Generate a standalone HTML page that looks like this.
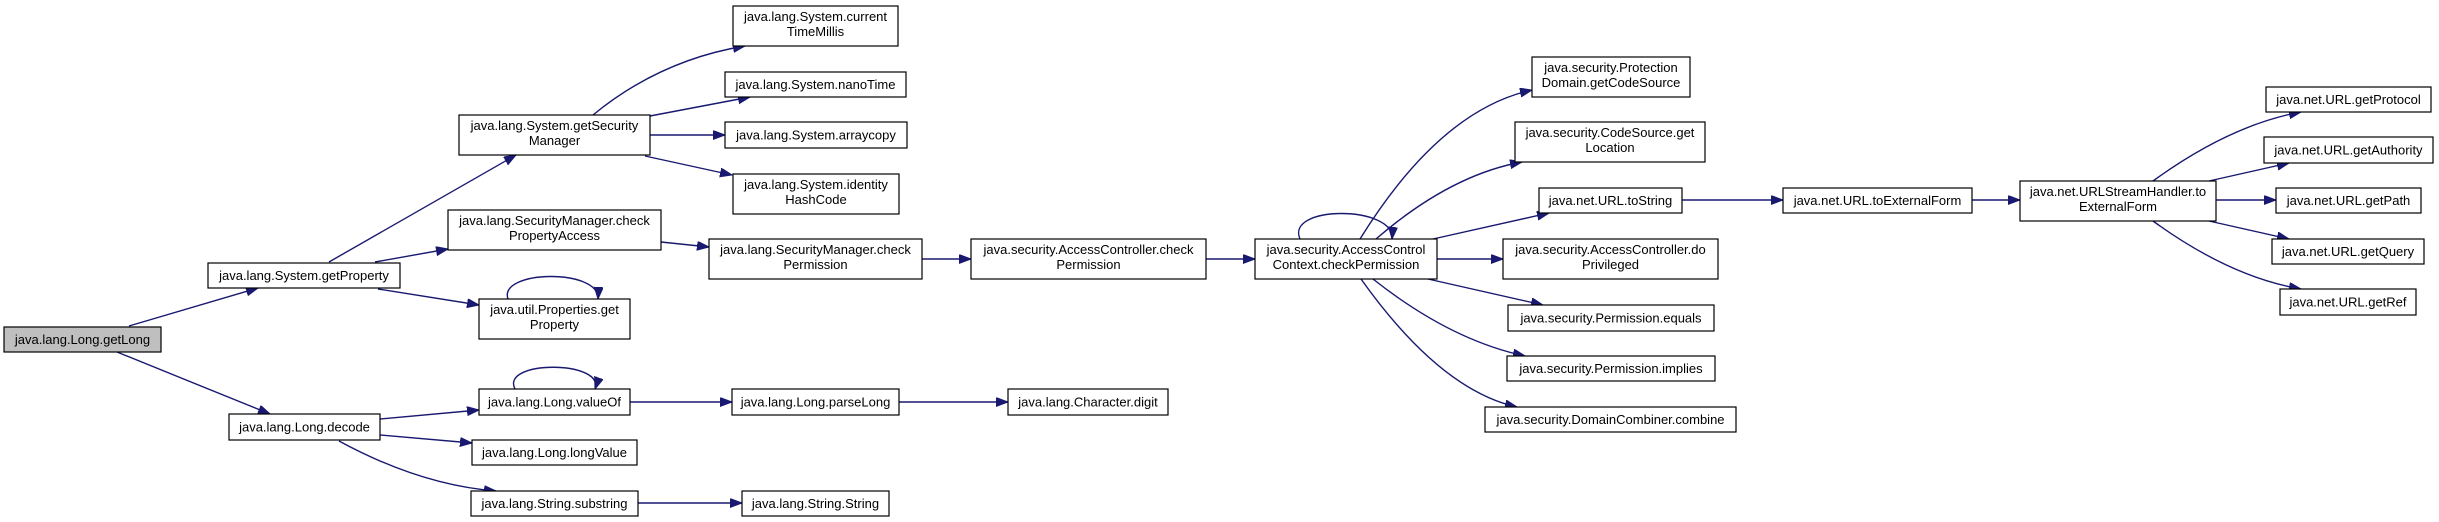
<!DOCTYPE html>
<html><head><meta charset="utf-8"><style>
html,body{margin:0;padding:0;background:#fff;}
svg{display:block;}
text{font-family:"Liberation Sans",Arial,sans-serif;font-size:13px;fill:#000;text-anchor:middle;}
rect{fill:#fff;stroke:#000;stroke-width:1.2;}
path.e{fill:none;stroke:#191970;stroke-width:1.4;marker-end:url(#ah);}
</style></head><body>
<svg width="2439" height="522" viewBox="0 0 2439 522" xmlns="http://www.w3.org/2000/svg">
<defs><marker id="ah" markerUnits="userSpaceOnUse" markerWidth="13" markerHeight="10" refX="12" refY="4.5" orient="auto"><path d="M0,0 L12,4.5 L0,9 z" fill="#191970" stroke="#191970"/></marker></defs>

<path class="e" d="M129,326 L258,288"/>
<path class="e" d="M117,352 L270,414"/>
<path class="e" d="M329,262 L516,155"/>
<path class="e" d="M375,262 L448,249"/>
<path class="e" d="M378,289 L479,305"/>
<path class="e" d="M508,299 C498,270 600,268 598,299"/>
<path class="e" d="M593,115 Q660,60 745,46"/>
<path class="e" d="M650,116 L750,97"/>
<path class="e" d="M650,135 L725,135"/>
<path class="e" d="M645,156 L732,175"/>
<path class="e" d="M661,242 L709,247"/>
<path class="e" d="M922,259 L971,259"/>
<path class="e" d="M1206,259 L1255,259"/>
<path class="e" d="M1300,239 C1285,205 1395,205 1392,239"/>
<path class="e" d="M1360,239 Q1440,110 1532,90"/>
<path class="e" d="M1376,239 Q1450,175 1522,162"/>
<path class="e" d="M1433,239 L1549,213"/>
<path class="e" d="M1437,259 L1503,259"/>
<path class="e" d="M1428,279 L1543,305"/>
<path class="e" d="M1373,279 Q1450,340 1525,356"/>
<path class="e" d="M1361,279 Q1440,390 1517,407"/>
<path class="e" d="M1682,200 L1783,200"/>
<path class="e" d="M1972,200 L2020,200"/>
<path class="e" d="M2153,181 Q2230,125 2301,112"/>
<path class="e" d="M2209,181 L2289,163"/>
<path class="e" d="M2216,200 L2276,200"/>
<path class="e" d="M2209,221 L2289,239"/>
<path class="e" d="M2153,221 Q2230,277 2301,289"/>
<path class="e" d="M380,419 L479,410"/>
<path class="e" d="M380,435 L472,443"/>
<path class="e" d="M339,441 Q420,485 496,491"/>
<path class="e" d="M515,389 C500,360 605,360 595,389"/>
<path class="e" d="M630,402 L732,402"/>
<path class="e" d="M899,402 L1008,402"/>
<path class="e" d="M638,503 L742,503"/>

<rect x="4" y="327" width="157" height="25" style="fill:#bfbfbf"/><text x="82.5" y="344">java.lang.Long.getLong</text>
<rect x="208" y="263" width="192" height="25"/><text x="304" y="280">java.lang.System.getProperty</text>
<rect x="229" y="414" width="151" height="26"/><text x="304.5" y="431.5">java.lang.Long.decode</text>
<rect x="459" y="115" width="191" height="40"/><text x="554.5" y="130">java.lang.System.getSecurity</text><text x="554.5" y="145">Manager</text>
<rect x="448" y="210" width="213" height="40"/><text x="554.5" y="225">java.lang.SecurityManager.check</text><text x="554.5" y="240">PropertyAccess</text>
<rect x="479" y="299" width="151" height="40"/><text x="554.5" y="314">java.util.Properties.get</text><text x="554.5" y="329">Property</text>
<rect x="479" y="389" width="151" height="26"/><text x="554.5" y="406.5">java.lang.Long.valueOf</text>
<rect x="472" y="440" width="165" height="25"/><text x="554.5" y="457">java.lang.Long.longValue</text>
<rect x="471" y="491" width="167" height="25"/><text x="554.5" y="508">java.lang.String.substring</text>
<rect x="733" y="6" width="165" height="40"/><text x="815.5" y="21">java.lang.System.current</text><text x="815.5" y="36">TimeMillis</text>
<rect x="725" y="72" width="181" height="25"/><text x="815.5" y="89">java.lang.System.nanoTime</text>
<rect x="725" y="122" width="182" height="26"/><text x="816" y="139.5">java.lang.System.arraycopy</text>
<rect x="733" y="174" width="166" height="40"/><text x="816" y="189">java.lang.System.identity</text><text x="816" y="204">HashCode</text>
<rect x="709" y="239" width="213" height="40"/><text x="815.5" y="254">java.lang.SecurityManager.check</text><text x="815.5" y="269">Permission</text>
<rect x="732" y="389" width="167" height="26"/><text x="815.5" y="406.5">java.lang.Long.parseLong</text>
<rect x="742" y="491" width="147" height="25"/><text x="815.5" y="508">java.lang.String.String</text>
<rect x="971" y="239" width="235" height="40"/><text x="1088.5" y="254">java.security.AccessController.check</text><text x="1088.5" y="269">Permission</text>
<rect x="1008" y="389" width="160" height="26"/><text x="1088" y="406.5">java.lang.Character.digit</text>
<rect x="1255" y="239" width="182" height="40"/><text x="1346" y="254">java.security.AccessControl</text><text x="1346" y="269">Context.checkPermission</text>
<rect x="1532" y="57" width="158" height="40"/><text x="1611" y="72">java.security.Protection</text><text x="1611" y="87">Domain.getCodeSource</text>
<rect x="1515" y="122" width="190" height="40"/><text x="1610" y="137">java.security.CodeSource.get</text><text x="1610" y="152">Location</text>
<rect x="1539" y="188" width="143" height="25"/><text x="1610.5" y="205">java.net.URL.toString</text>
<rect x="1503" y="239" width="215" height="40"/><text x="1610.5" y="254">java.security.AccessController.do</text><text x="1610.5" y="269">Privileged</text>
<rect x="1508" y="305" width="206" height="26"/><text x="1611" y="322.5">java.security.Permission.equals</text>
<rect x="1507" y="356" width="208" height="25"/><text x="1611" y="373">java.security.Permission.implies</text>
<rect x="1485" y="407" width="251" height="25"/><text x="1610.5" y="424">java.security.DomainCombiner.combine</text>
<rect x="1783" y="188" width="189" height="25"/><text x="1877.5" y="205">java.net.URL.toExternalForm</text>
<rect x="2020" y="181" width="196" height="40"/><text x="2118" y="196">java.net.URLStreamHandler.to</text><text x="2118" y="211">ExternalForm</text>
<rect x="2266" y="87" width="165" height="25"/><text x="2348.5" y="104">java.net.URL.getProtocol</text>
<rect x="2264" y="137" width="169" height="26"/><text x="2348.5" y="154.5">java.net.URL.getAuthority</text>
<rect x="2276" y="188" width="145" height="25"/><text x="2348.5" y="205">java.net.URL.getPath</text>
<rect x="2272" y="239" width="152" height="25"/><text x="2348" y="256">java.net.URL.getQuery</text>
<rect x="2280" y="289" width="136" height="26"/><text x="2348" y="306.5">java.net.URL.getRef</text>
</svg>
</body></html>
